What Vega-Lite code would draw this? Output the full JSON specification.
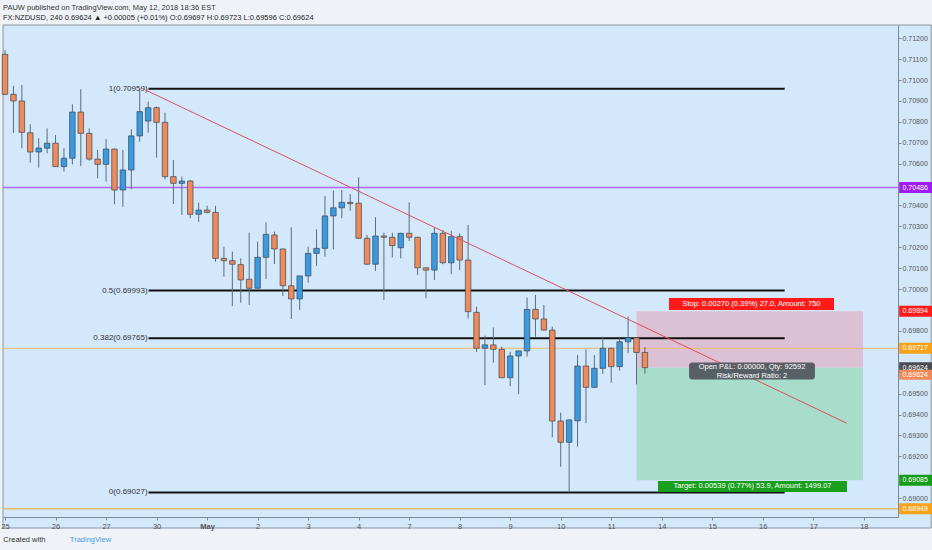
{
"$schema": "https://vega.github.io/schema/vega-lite/v6.json",
"width": 895, "height": 492,
"autosize": {"type": "none"},
"padding": {"left": 3, "top": 25, "right": 34, "bottom": 33},
"background": "#eff3f8",
"config": {"view": {"fill": "#d3e8fb", "stroke": "#7d8b98", "strokeWidth": 1}, "font": "Liberation Sans", "scale": {"continuousPadding": 0}, "axis": {"labelOverlap": false, "title": null, "grid": false}},
"title": {"text": "PAUW published on TradingView.com, May 12, 2018 18:36 EST", "subtitle": "FX:NZDUSD, 240  0.69624 ▲ +0.00005 (+0.01%)  O:0.69697 H:0.69723 L:0.69596 C:0.69624", "anchor": "start", "frame": "group", "offset": 3, "fontSize": 7.5, "fontWeight": "normal", "color": "#333333", "subtitleFontSize": 7.5, "subtitleColor": "#222222", "subtitlePadding": 3, "font": "Liberation Sans", "subtitleFont": "Liberation Sans"},
"datasets": {
"candles": [
{"i":0,"o":0.71123,"h":0.71144,"l":0.70928,"c":0.70932},
{"i":1,"o":0.70932,"h":0.70972,"l":0.70747,"c":0.70900},
{"i":2,"o":0.70900,"h":0.70977,"l":0.70674,"c":0.70750},
{"i":3,"o":0.70748,"h":0.70789,"l":0.70605,"c":0.70656},
{"i":4,"o":0.70656,"h":0.70722,"l":0.70581,"c":0.70675},
{"i":5,"o":0.70674,"h":0.70769,"l":0.70650,"c":0.70698},
{"i":6,"o":0.70698,"h":0.70737,"l":0.70584,"c":0.70586},
{"i":7,"o":0.70586,"h":0.70674,"l":0.70562,"c":0.70626},
{"i":8,"o":0.70626,"h":0.70884,"l":0.70597,"c":0.70847},
{"i":9,"o":0.70847,"h":0.70956,"l":0.70589,"c":0.70745},
{"i":10,"o":0.70745,"h":0.70769,"l":0.70614,"c":0.70622},
{"i":11,"o":0.70622,"h":0.70666,"l":0.70530,"c":0.70597},
{"i":12,"o":0.70597,"h":0.70718,"l":0.70514,"c":0.70670},
{"i":13,"o":0.70670,"h":0.70672,"l":0.70406,"c":0.70474},
{"i":14,"o":0.70474,"h":0.70666,"l":0.70394,"c":0.70570},
{"i":15,"o":0.70570,"h":0.70765,"l":0.70478,"c":0.70733},
{"i":16,"o":0.70733,"h":0.70959,"l":0.70705,"c":0.70849},
{"i":17,"o":0.70804,"h":0.70897,"l":0.70748,"c":0.70868},
{"i":18,"o":0.70868,"h":0.70873,"l":0.70629,"c":0.70798},
{"i":19,"o":0.70798,"h":0.70844,"l":0.70525,"c":0.70538},
{"i":20,"o":0.70538,"h":0.70618,"l":0.70407,"c":0.70506},
{"i":21,"o":0.70506,"h":0.70538,"l":0.70355,"c":0.70517},
{"i":22,"o":0.70517,"h":0.70522,"l":0.70339,"c":0.70358},
{"i":23,"o":0.70358,"h":0.70413,"l":0.70322,"c":0.70378},
{"i":24,"o":0.70378,"h":0.70399,"l":0.70363,"c":0.70367},
{"i":25,"o":0.70367,"h":0.70398,"l":0.70131,"c":0.70147},
{"i":26,"o":0.70147,"h":0.70203,"l":0.70059,"c":0.70136},
{"i":27,"o":0.70136,"h":0.70179,"l":0.69919,"c":0.70119},
{"i":28,"o":0.70117,"h":0.70147,"l":0.69935,"c":0.70044},
{"i":29,"o":0.70047,"h":0.70270,"l":0.69924,"c":0.70004},
{"i":30,"o":0.70004,"h":0.70227,"l":0.70000,"c":0.70152},
{"i":31,"o":0.70152,"h":0.70320,"l":0.70048,"c":0.70262},
{"i":32,"o":0.70259,"h":0.70275,"l":0.70120,"c":0.70192},
{"i":33,"o":0.70192,"h":0.70194,"l":0.69967,"c":0.70016},
{"i":34,"o":0.70016,"h":0.70296,"l":0.69857,"c":0.69953},
{"i":35,"o":0.69953,"h":0.70063,"l":0.69900,"c":0.70063},
{"i":36,"o":0.70063,"h":0.70203,"l":0.70031,"c":0.70171},
{"i":37,"o":0.70171,"h":0.70286,"l":0.70111,"c":0.70195},
{"i":38,"o":0.70195,"h":0.70445,"l":0.70155,"c":0.70350},
{"i":39,"o":0.70350,"h":0.70471,"l":0.70190,"c":0.70389},
{"i":40,"o":0.70389,"h":0.70474,"l":0.70339,"c":0.70415},
{"i":41,"o":0.70415,"h":0.70455,"l":0.70375,"c":0.70409},
{"i":42,"o":0.70411,"h":0.70535,"l":0.70240,"c":0.70243},
{"i":43,"o":0.70243,"h":0.70259,"l":0.70117,"c":0.70119},
{"i":44,"o":0.70119,"h":0.70344,"l":0.70087,"c":0.70254},
{"i":45,"o":0.70254,"h":0.70270,"l":0.69948,"c":0.70248},
{"i":46,"o":0.70248,"h":0.70270,"l":0.70152,"c":0.70208},
{"i":47,"o":0.70198,"h":0.70269,"l":0.70147,"c":0.70267},
{"i":48,"o":0.70267,"h":0.70415,"l":0.70230,"c":0.70248},
{"i":49,"o":0.70248,"h":0.70250,"l":0.70067,"c":0.70102},
{"i":50,"o":0.70102,"h":0.70103,"l":0.69956,"c":0.70091},
{"i":51,"o":0.70091,"h":0.70296,"l":0.70044,"c":0.70267},
{"i":52,"o":0.70267,"h":0.70283,"l":0.70119,"c":0.70126},
{"i":53,"o":0.70126,"h":0.70279,"l":0.70072,"c":0.70251},
{"i":54,"o":0.70251,"h":0.70267,"l":0.70091,"c":0.70139},
{"i":55,"o":0.70139,"h":0.70307,"l":0.69860,"c":0.69892},
{"i":56,"o":0.69889,"h":0.69916,"l":0.69700,"c":0.69717},
{"i":57,"o":0.69717,"h":0.69777,"l":0.69541,"c":0.69733},
{"i":58,"o":0.69733,"h":0.69817,"l":0.69648,"c":0.69712},
{"i":59,"o":0.69712,"h":0.69724,"l":0.69574,"c":0.69576},
{"i":60,"o":0.69576,"h":0.69700,"l":0.69536,"c":0.69680},
{"i":61,"o":0.69680,"h":0.69706,"l":0.69498,"c":0.69704},
{"i":62,"o":0.69704,"h":0.69959,"l":0.69677,"c":0.69903},
{"i":63,"o":0.69903,"h":0.69972,"l":0.69772,"c":0.69857},
{"i":64,"o":0.69857,"h":0.69924,"l":0.69802,"c":0.69804},
{"i":65,"o":0.69804,"h":0.69820,"l":0.69291,"c":0.69369},
{"i":66,"o":0.69369,"h":0.69409,"l":0.69150,"c":0.69267},
{"i":67,"o":0.69267,"h":0.69376,"l":0.69027,"c":0.69374},
{"i":68,"o":0.69370,"h":0.69685,"l":0.69246,"c":0.69632},
{"i":69,"o":0.69632,"h":0.69712,"l":0.69358,"c":0.69530},
{"i":70,"o":0.69530,"h":0.69685,"l":0.69528,"c":0.69621},
{"i":71,"o":0.69621,"h":0.69772,"l":0.69594,"c":0.69717},
{"i":72,"o":0.69717,"h":0.69720,"l":0.69552,"c":0.69629},
{"i":73,"o":0.69629,"h":0.69765,"l":0.69610,"c":0.69748},
{"i":74,"o":0.69748,"h":0.69868,"l":0.69693,"c":0.69767},
{"i":75,"o":0.69767,"h":0.69770,"l":0.69544,"c":0.69697},
{"i":76,"o":0.69697,"h":0.69723,"l":0.69596,"c":0.69624}
],
"fib": [
{"label":"1(0.70959)","p":0.70959},
{"label":"0.5(0.69993)","p":0.69993},
{"label":"0.382(0.69765)","p":0.69765},
{"label":"0(0.69027)","p":0.69027}
],
"trend": [{"i":16.4,"p":0.70958},{"i":100,"p":0.69358}],
"tags": [
{"tag":"alert","p":0.70486,"label":"0.70486"},
{"tag":"stop","p":0.69894,"label":"0.69894"},
{"tag":"line","p":0.69717,"label":"0.69717"},
{"tag":"entry","p":0.69624,"label":"0.69624"},
{"tag":"target","p":0.69085,"label":"0.69085"},
{"tag":"line2","p":0.68949,"label":"0.68949"}
],
"last": [{"p":0.69624,"label":"0.69624"}]
},
"layer": [
{"data":{"name":"candles"},"mark":{"type":"rule","color":"#5d6c79","strokeWidth":1,"opacity":0},
 "encoding":{"x":{"field":"i","type":"quantitative","scale":{"domain":[-0.24,106.06],"nice":false,"zero":false,"padding":0},
   "axis":{"title":null,"grid":false,"zindex":1,"values":[0,6,12,18,24,30,36,42,48,54,60,66,72,78,84,90,96,102],"tickCount":40,
   "labelExpr":"['25','26','27','30','May','2','3','4','7','8','9','10','11','14','15','16','17','18'][round(datum.value/6)]",
   "labelFontWeight":{"condition":{"test":"datum.value == 24","value":"bold"},"value":"normal"},
   "labelFlush":false,"labelOverlap":false,"tickSize":3,"labelFontSize":7.5,"labelColor":"#555555","domainColor":"#7d8b98","tickColor":"#7d8b98","labelPadding":2}},
  "y":{"field":"l","type":"quantitative","scale":{"domain":[0.689096,0.712636],"nice":false,"zero":false,"padding":0},
   "axis":{"title":null,"grid":false,"zindex":1,"orient":"right","format":".5f","tickCount":40,"values":[0.690,0.692,0.693,0.694,0.695,0.698,0.700,0.701,0.702,0.703,0.704,0.706,0.707,0.708,0.709,0.710,0.711,0.712],
   "labelOverlap":false,"tickSize":3,"labelFontSize":7,"labelColor":"#555555","domainColor":"#7d8b98","tickColor":"#7d8b98","labelPadding":1}},
  "y2":{"field":"h"}}},
{"data":{"values":[{}]},"mark":{"type":"rect","fill":"#d3e8fb","stroke":"#8796a3","strokeWidth":1},
 "encoding":{"x":{"datum":-0.24,"type":"quantitative"},"x2":{"datum":110.0},
 "y":{"datum":0.712636,"type":"quantitative"},"y2":{"datum":0.688569}}},
{"data":{"values":[{}]},"mark":{"type":"rect","color":"#dcc1d5"},
 "encoding":{"x":{"datum":75,"type":"quantitative"},"x2":{"datum":101.9},
 "y":{"datum":0.69894,"type":"quantitative"},"y2":{"datum":0.69624}}},
{"data":{"values":[{}]},"mark":{"type":"rect","color":"#a8dccb"},
 "encoding":{"x":{"datum":75,"type":"quantitative"},"x2":{"datum":101.9},
 "y":{"datum":0.69624,"type":"quantitative"},"y2":{"datum":0.69085}}},
{"data":{"values":[{}]},"mark":{"type":"rule","color":"#b06af7","strokeWidth":1.3},
 "encoding":{"y":{"datum":0.70486,"type":"quantitative"}}},
{"data":{"values":[{}]},"mark":{"type":"rule","color":"#f0b772","strokeWidth":1},
 "encoding":{"y":{"datum":0.69717,"type":"quantitative"}}},
{"data":{"values":[{}]},"mark":{"type":"rule","color":"#e2b968","strokeWidth":1.5},
 "encoding":{"y":{"datum":0.68949,"type":"quantitative"}}},
{"data":{"name":"fib"},"mark":{"type":"rule","color":"#111111","strokeWidth":2},
 "encoding":{"x":{"datum":17.05,"type":"quantitative"},"x2":{"datum":92.6},
 "y":{"field":"p","type":"quantitative"}}},
{"data":{"name":"fib"},"mark":{"type":"text","align":"right","baseline":"middle","dx":-1,"fontSize":8,"color":"#333333"},
 "encoding":{"x":{"datum":17.05,"type":"quantitative"},
 "y":{"field":"p","type":"quantitative"},
 "text":{"field":"label"}}},
{"data":{"name":"candles"},"mark":{"type":"rule","color":"#5d6c79","strokeWidth":1},
 "encoding":{"x":{"field":"i","type":"quantitative"},"y":{"field":"l","type":"quantitative"},"y2":{"field":"h"}}},
{"data":{"name":"candles"},"mark":{"type":"bar","width":5.5,"stroke":"#3b4652","strokeWidth":0.7},
 "encoding":{"x":{"field":"i","type":"quantitative"},
  "y":{"field":"o","type":"quantitative"},
  "y2":{"field":"c"},
  "fill":{"condition":{"test":"datum.c >= datum.o","value":"#3a9ae0"},"value":"#ef8a5a"}}},
{"data":{"name":"trend"},"mark":{"type":"line","color":"#e0505c","strokeWidth":1},
 "encoding":{"x":{"field":"i","type":"quantitative"},
  "y":{"field":"p","type":"quantitative"}}},
{"data":{"values":[{}]},"mark":{"type":"bar","color":"#ff1a1a","size":12},
 "encoding":{"x":{"datum":78.86,"type":"quantitative"},"x2":{"datum":98.46},
 "y":{"datum":0.69929,"type":"quantitative"}}},
{"data":{"values":[{}]},"mark":{"type":"text","color":"#ffffff","fontSize":7.5,"align":"center","baseline":"middle","text":"Stop: 0.00270 (0.39%) 27.0, Amount: 750"},
 "encoding":{"x":{"datum":88.66,"type":"quantitative"},
 "y":{"datum":0.69929,"type":"quantitative"}}},
{"data":{"values":[{}]},"mark":{"type":"bar","color":"#50565c","opacity":0.92,"size":17,"cornerRadius":3},
 "encoding":{"x":{"datum":81.24,"type":"quantitative"},"x2":{"datum":96.2},
 "y":{"datum":0.69608,"type":"quantitative"}}},
{"data":{"values":[{}]},"mark":{"type":"text","color":"#ffffff","fontSize":7.5,"align":"center","baseline":"middle","lineHeight":8.5,"dy":-4,"text":["Open P&L: 0.00000, Qty: 92592","Risk/Reward Ratio: 2"]},
 "encoding":{"x":{"datum":88.72,"type":"quantitative"},
 "y":{"datum":0.69608,"type":"quantitative"}}},
{"data":{"values":[{}]},"mark":{"type":"bar","color":"#18a01c","size":11},
 "encoding":{"x":{"datum":77.55,"type":"quantitative"},"x2":{"datum":100.0},
 "y":{"datum":0.69056,"type":"quantitative"}}},
{"data":{"values":[{}]},"mark":{"type":"text","color":"#ffffff","fontSize":7.5,"align":"center","baseline":"middle","text":"Target: 0.00539 (0.77%) 53.9, Amount: 1499.07"},
 "encoding":{"x":{"datum":88.78,"type":"quantitative"},
 "y":{"datum":0.69056,"type":"quantitative"}}},
{"data":{"name":"tags"},"mark":{"type":"bar","size":11},
 "encoding":{"x":{"datum":106.2,"type":"quantitative"},"x2":{"datum":110.1},
 "y":{"field":"p","type":"quantitative"},
 "color":{"field":"tag","type":"nominal","legend":null,"scale":{"domain":["alert","stop","line","entry","target","line2"],"range":["#9f1df0","#ff1a1a","#f7a21b","#4a4d52","#159c19","#f7a21b"]}}}},
{"data":{"name":"last"},"mark":{"type":"bar","size":10,"color":"#ef8a5a","yOffset":7},
 "encoding":{"x":{"datum":106.2,"type":"quantitative"},"x2":{"datum":110.1},
 "y":{"field":"p","type":"quantitative"}}},
{"data":{"name":"tags"},"mark":{"type":"text","color":"#ffffff","fontSize":7,"align":"center","baseline":"middle"},
 "encoding":{"x":{"datum":108.1,"type":"quantitative"},
 "y":{"field":"p","type":"quantitative"},
 "text":{"field":"label"}}},
{"data":{"name":"last"},"mark":{"type":"text","color":"#ffffff","fontSize":7,"align":"center","baseline":"middle","dy":7},
 "encoding":{"x":{"datum":108.1,"type":"quantitative"},
 "y":{"field":"p","type":"quantitative"},
 "text":{"field":"label"}}},
{"data":{"values":[{}]},"mark":{"type":"text","color":"#333333","fontSize":7.5,"align":"left","baseline":"middle","text":"Created with"},
 "encoding":{"x":{"datum":-0.2,"type":"quantitative"},
 "y":{"datum":0.68800,"type":"quantitative"}}},
{"data":{"values":[{}]},"mark":{"type":"text","color":"#3d9ce3","fontSize":7.5,"align":"left","baseline":"middle","text":"TradingView"},
 "encoding":{"x":{"datum":7.7,"type":"quantitative"},
 "y":{"datum":0.68800,"type":"quantitative"}}}
]
}
